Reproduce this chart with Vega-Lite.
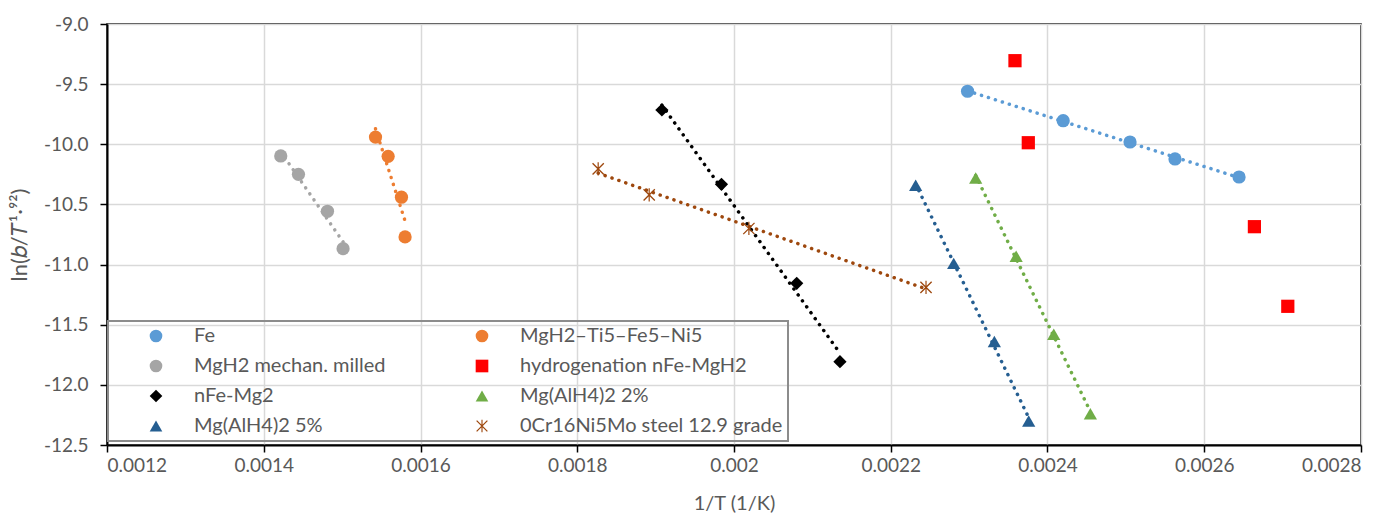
{
  "$schema": "https://vega.github.io/schema/vega-lite/v6.json",
  "width": 1254,
  "height": 421,
  "autosize": {"type": "none"},
  "padding": {"left": 107, "top": 24, "right": 33, "bottom": 68},
  "background": "white",
  "config": {
    "view": {"stroke": "#000000", "strokeWidth": 1.5},
    "font": "Lato",
    "legend": {"strokeWidth": 2},
    "axis": {
      "labelFont": "Lato", "labelFontSize": 19, "labelColor": "#595959",
      "titleFont": "Lato", "titleFontSize": 20, "titleColor": "#595959", "titleFontWeight": "normal",
      "gridColor": "#D9D9D9", "gridWidth": 1.5,
      "domainColor": "#000000", "domainWidth": 2,
      "tickColor": "#000000", "tickWidth": 1.5, "tickSize": 7
    }
  },
  "data": {"values": [
    {"series": "Fe", "x": 0.002298, "y": -9.559},
    {"series": "Fe", "x": 0.00242, "y": -9.804},
    {"series": "Fe", "x": 0.0025053, "y": -9.981},
    {"series": "Fe", "x": 0.0025627, "y": -10.122},
    {"series": "Fe", "x": 0.0026444, "y": -10.272},
    {"series": "hydrogenation  nFe-MgH2", "x": 0.0023585, "y": -9.305},
    {"series": "hydrogenation  nFe-MgH2", "x": 0.0023755, "y": -9.987},
    {"series": "hydrogenation  nFe-MgH2", "x": 0.002664, "y": -10.685},
    {"series": "hydrogenation  nFe-MgH2", "x": 0.0027066, "y": -11.347},
    {"series": "Mg(AlH4)2 2%", "x": 0.0023084, "y": -10.28},
    {"series": "Mg(AlH4)2 2%", "x": 0.00236, "y": -10.93},
    {"series": "Mg(AlH4)2 2%", "x": 0.002408, "y": -11.58},
    {"series": "Mg(AlH4)2 2%", "x": 0.0024547, "y": -12.24},
    {"series": "Mg(AlH4)2 5%", "x": 0.0022318, "y": -10.34},
    {"series": "Mg(AlH4)2 5%", "x": 0.0022803, "y": -10.99},
    {"series": "Mg(AlH4)2 5%", "x": 0.0023322, "y": -11.64},
    {"series": "Mg(AlH4)2 5%", "x": 0.002376, "y": -12.3},
    {"series": "nFe-Mg2", "x": 0.001908, "y": -9.715},
    {"series": "nFe-Mg2", "x": 0.001984, "y": -10.333},
    {"series": "nFe-Mg2", "x": 0.00208, "y": -11.156},
    {"series": "nFe-Mg2", "x": 0.0021352, "y": -11.807},
    {"series": "0Cr16Ni5Mo steel 12.9 grade", "x": 0.0018267, "y": -10.205},
    {"series": "0Cr16Ni5Mo steel 12.9 grade", "x": 0.0018918, "y": -10.42},
    {"series": "0Cr16Ni5Mo steel 12.9 grade", "x": 0.002019, "y": -10.7},
    {"series": "0Cr16Ni5Mo steel 12.9 grade", "x": 0.002245, "y": -11.19},
    {"series": "MgH2 mechan. milled", "x": 0.0014217, "y": -10.097},
    {"series": "MgH2 mechan. milled", "x": 0.0014443, "y": -10.25},
    {"series": "MgH2 mechan. milled", "x": 0.0014813, "y": -10.557},
    {"series": "MgH2 mechan. milled", "x": 0.0015012, "y": -10.868},
    {"series": "MgH2–Ti5–Fe5–Ni5", "x": 0.0015426, "y": -9.94},
    {"series": "MgH2–Ti5–Fe5–Ni5", "x": 0.0015587, "y": -10.1},
    {"series": "MgH2–Ti5–Fe5–Ni5", "x": 0.0015757, "y": -10.44},
    {"series": "MgH2–Ti5–Fe5–Ni5", "x": 0.0015803, "y": -10.77}
  ]},
  "encoding": {
    "x": {"field": "x", "type": "quantitative",
      "scale": {"domain": [0.0012, 0.0028], "nice": false, "zero": false},
      "axis": {"title": "1/T (1/K)", "values": [0.0012, 0.0014, 0.0016, 0.0018, 0.002, 0.0022, 0.0024, 0.0026, 0.0028], "format": ".4~f", "labelPadding": 4, "titlePadding": 18}},
    "y": {"field": "y", "type": "quantitative",
      "scale": {"domain": [-12.5, -9.0], "nice": false, "zero": false},
      "axis": {"title": "ln(𝑏/𝑇¹·⁹²)", "titleFontSize": 22, "values": [-12.5, -12, -11.5, -11, -10.5, -10, -9.5, -9], "labelExpr": "replace(format(datum.value, '.1f'), '−', '-')", "labelPadding": 12, "titlePadding": 12}}
  },
  "layer": [
    {
      "transform": [
        {"filter": "datum.series !== 'hydrogenation  nFe-MgH2'"},
        {"regression": "y", "on": "x", "groupby": ["series"]}
      ],
      "mark": {"type": "line", "strokeWidth": 3.5, "strokeDash": [0.1, 7.2], "strokeCap": "round"},
      "encoding": {
        "color": {"field": "series", "type": "nominal", "legend": null,
          "scale": {
            "domain": ["Fe", "MgH2–Ti5–Fe5–Ni5", "MgH2 mechan. milled", "hydrogenation  nFe-MgH2", "nFe-Mg2", "Mg(AlH4)2 2%", "Mg(AlH4)2 5%", "0Cr16Ni5Mo steel 12.9 grade"],
            "range": ["#5B9BD5", "#ED7D31", "#A5A5A5", "#FF0000", "#000000", "#70AD47", "#255E91", "#9E480E"]}}
      }
    },
    {
      "mark": {"type": "point", "filled": true, "opacity": 1, "size": 175},
      "encoding": {
        "color": {"field": "series", "type": "nominal",
          "scale": {
            "domain": ["Fe", "MgH2–Ti5–Fe5–Ni5", "MgH2 mechan. milled", "hydrogenation  nFe-MgH2", "nFe-Mg2", "Mg(AlH4)2 2%", "Mg(AlH4)2 5%", "0Cr16Ni5Mo steel 12.9 grade"],
            "range": ["#5B9BD5", "#ED7D31", "#A5A5A5", "#FF0000", "#000000", "#70AD47", "#255E91", "#9E480E"]},
          "legend": {
            "title": null, "orient": "none", "legendX": 1, "legendY": 297,
            "direction": "horizontal", "columns": 2,
            "strokeColor": "#8C8C8C", "padding": 5,
            "symbolOffset": 33, "labelOffset": 28, "columnPadding": 53, "rowPadding": 10,
            "symbolSize": 160, "labelFont": "Lato", "labelFontSize": 20, "labelColor": "#595959", "labelLimit": 400
          }},
        "shape": {"field": "series", "type": "nominal",
          "scale": {
            "domain": ["Fe", "MgH2–Ti5–Fe5–Ni5", "MgH2 mechan. milled", "hydrogenation  nFe-MgH2", "nFe-Mg2", "Mg(AlH4)2 2%", "Mg(AlH4)2 5%", "0Cr16Ni5Mo steel 12.9 grade"],
            "range": ["circle", "circle", "circle", "square", "diamond", "triangle-up", "triangle-up", "M-0.92,-0.78L-0.78,-0.92L0.92,0.78L0.78,0.92ZM0.78,-0.92L0.92,-0.78L-0.78,0.92L-0.92,0.78ZM-0.09,-1L0.09,-1L0.09,1L-0.09,1Z"]}}
      }
    }
  ],
  "resolve": {"scale": {"color": "independent", "shape": "independent"}, "legend": {"color": "independent", "shape": "independent"}}
}
